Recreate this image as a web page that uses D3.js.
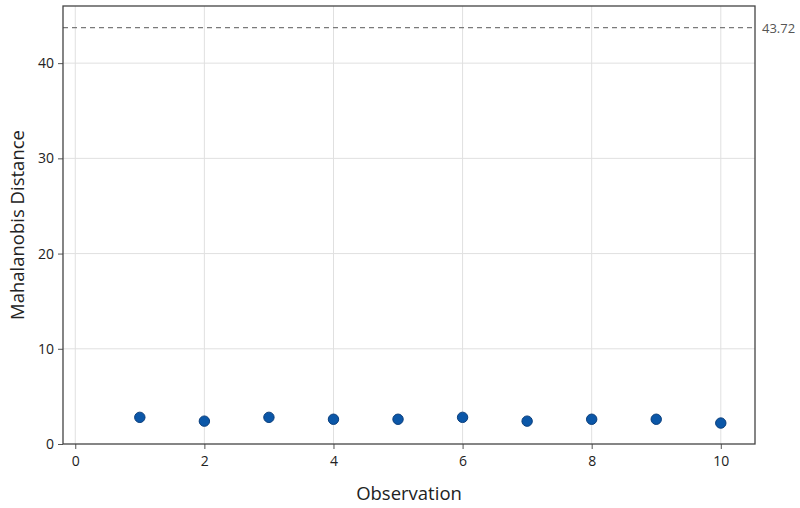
<!DOCTYPE html>
<html>
<head>
<meta charset="utf-8">
<script src="https://cdn.jsdelivr.net/npm/d3@7"></script>
<style>
  body { margin: 0; background: #fff; }
  text { font-family: "Open Sans", "Noto Sans", sans-serif; }
</style>
</head>
<body>
<div class="canvas"></div>
<script>
// data
const observations = [1, 2, 3, 4, 5, 6, 7, 8, 9, 10]
const distances = [2.8, 2.4, 2.8, 2.6, 2.6, 2.8, 2.4, 2.6, 2.6, 2.2]
const threshold = 43.72
const xTicks = [0, 2, 4, 6, 8, 10]
const yTicks = [0, 10, 20, 30, 40]

const width = 800
const height = 508
const margin = { left: 63, right: 45, top: 6, bottom: 64 }

const svg = d3.select(".canvas").append("svg")
    .attr("width", width)
    .attr("height", height)

const x = d3.scaleLinear()
    .domain([-0.19, 10.53])
    .range([margin.left, width - margin.right])

const y = d3.scaleLinear()
    .domain([0, 46])
    .range([height - margin.bottom, margin.top])

const g = svg.append("g")

// grid
g.selectAll(".vgrid").data(xTicks).enter().append("line")
    .attr("x1", d => x(d)).attr("x2", d => x(d))
    .attr("y1", y(46)).attr("y2", y(0))
    .attr("stroke", "#e0e0e0").attr("stroke-width", 1)

g.selectAll(".hgrid").data(yTicks.filter(d => d > 0)).enter().append("line")
    .attr("x1", x.range()[0]).attr("x2", x.range()[1])
    .attr("y1", d => y(d)).attr("y2", d => y(d))
    .attr("stroke", "#e0e0e0").attr("stroke-width", 1)

// threshold line
g.append("line")
    .attr("x1", x.range()[0]).attr("x2", x.range()[1])
    .attr("y1", y(threshold)).attr("y2", y(threshold))
    .attr("stroke", "#7a7a7a")
    .attr("stroke-width", 1.2)
    .attr("stroke-dasharray", "5,4")

svg.append("text")
    .attr("x", x.range()[1] + 7)
    .attr("y", y(threshold) + 5)
    .attr("font-size", 13)
    .attr("fill", "#555")
    .text(threshold.toFixed(2))

// axes
const xAxis = d3.axisBottom(x).tickValues(xTicks).tickSize(5).tickPadding(7)
const yAxis = d3.axisLeft(y).tickValues(yTicks).tickSize(5).tickPadding(4)

const gx = svg.append("g")
    .attr("transform", `translate(0,${y(0)})`)
    .call(xAxis)
gx.select(".domain").remove()

const gy = svg.append("g")
    .attr("transform", `translate(${x.range()[0]},0)`)
    .call(yAxis)
gy.select(".domain").remove()

svg.selectAll(".tick line").attr("stroke", "#555")
svg.selectAll(".tick text")
    .attr("font-size", 14)
    .attr("fill", "#222")
    .style("font-family", "'Open Sans', sans-serif")

// frame
svg.append("rect")
    .attr("x", x.range()[0])
    .attr("y", y.range()[1])
    .attr("width", x.range()[1] - x.range()[0])
    .attr("height", y.range()[0] - y.range()[1])
    .attr("fill", "none")
    .attr("stroke", "#444")
    .attr("stroke-width", 1.3)

// points
svg.selectAll("circle")
    .data(observations.map((o, i) => ({ obs: o, dist: distances[i] })))
    .enter()
    .append("circle")
    .attr("cx", d => x(d.obs))
    .attr("cy", d => y(d.dist))
    .attr("r", 5.2)
    .attr("fill", "#0b57a8")
    .attr("stroke", "#0a3e7c")
    .attr("stroke-width", 1)

// axis titles
svg.append("text")
    .attr("x", (x.range()[0] + x.range()[1]) / 2)
    .attr("y", 500)
    .attr("text-anchor", "middle")
    .attr("font-size", 18.5)
    .attr("fill", "#222")
    .text("Observation")

svg.append("text")
    .attr("transform", `translate(24,${(y.range()[0] + y.range()[1]) / 2}) rotate(-90)`)
    .attr("text-anchor", "middle")
    .attr("font-size", 18.5)
    .attr("fill", "#222")
    .text("Mahalanobis Distance")
</script>
</body>
</html>
